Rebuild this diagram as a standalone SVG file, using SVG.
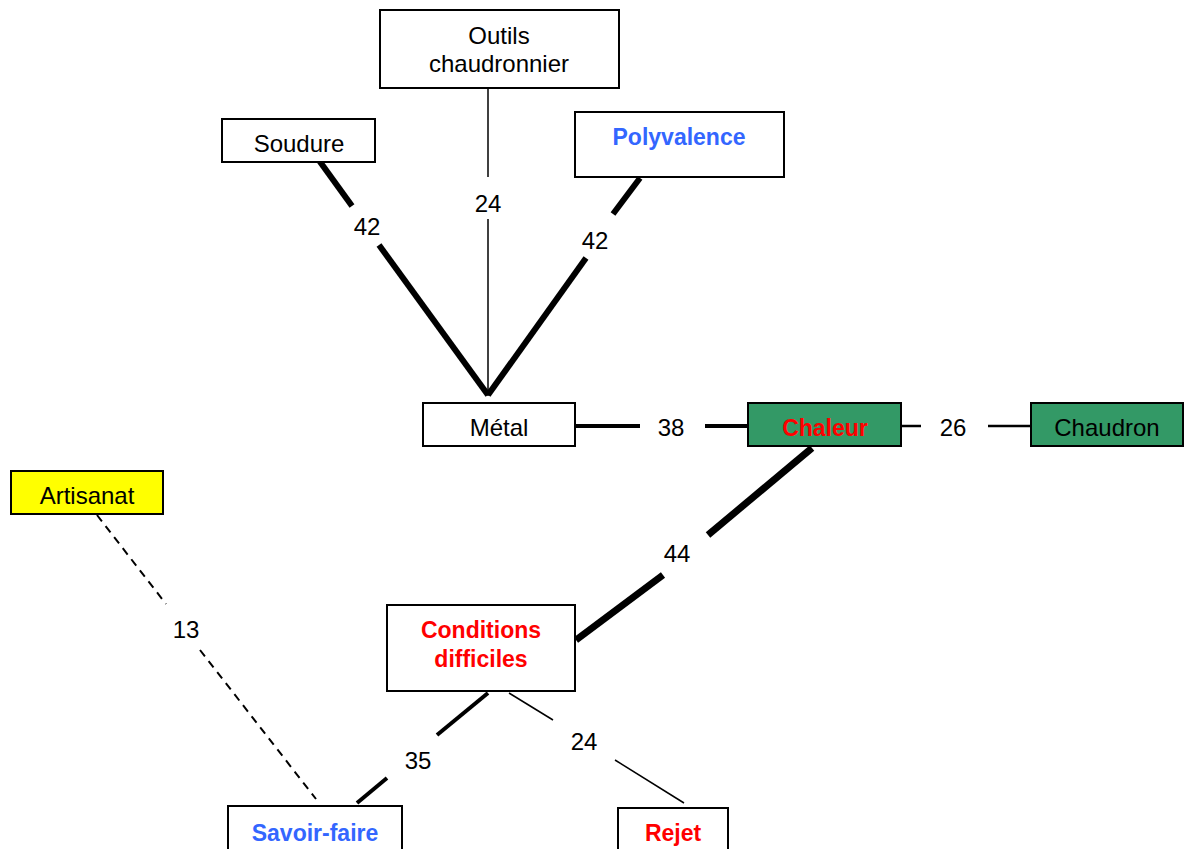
<svg xmlns="http://www.w3.org/2000/svg" width="1184" height="849" viewBox="0 0 1184 849">
  <style>
    .box { fill: #ffffff; stroke: #000000; stroke-width: 2; }
    .green { fill: #339966; }
    .yellow { fill: #ffff00; }
    text { font-family: "Liberation Sans", Arial, sans-serif; font-size: 24px; text-anchor: middle; fill: #000000; }
    .b { font-weight: bold; font-size: 23px; }
    .blue { fill: #3366ff; }
    .red { fill: #ff0000; }
    .edge { stroke: #000000; fill: none; }
    .w1 { stroke-width: 1.5; }
    .w2 { stroke-width: 2.5; }
    .w4 { stroke-width: 4; }
    .w6 { stroke-width: 6; }
    .w7 { stroke-width: 7; }
    .dash { stroke-width: 2; stroke-dasharray: 8 6; }
  </style>
  <rect width="1184" height="849" fill="#ffffff"/>

  <g id="connectors">
    <!-- Soudure - Metal -->
    <g class="edge w6">
      <line x1="318" y1="159" x2="352" y2="206"/>
      <line x1="379" y1="245" x2="488" y2="395"/>
    </g>
    <text x="367" y="235">42</text>
    <!-- Outils chaudronnier - Metal -->
    <g class="edge w1">
      <line x1="488" y1="88" x2="488" y2="177"/>
      <line x1="488" y1="219" x2="488" y2="396"/>
    </g>
    <text x="488" y="212">24</text>
    <!-- Polyvalence - Metal -->
    <g class="edge w6">
      <line x1="640" y1="178" x2="613" y2="214"/>
      <line x1="586" y1="258" x2="488" y2="395"/>
    </g>
    <text x="595" y="249">42</text>
    <!-- Metal - Chaleur -->
    <g class="edge w4">
      <line x1="575" y1="426" x2="640" y2="426"/>
      <line x1="705" y1="426" x2="748" y2="426"/>
    </g>
    <text x="671" y="436">38</text>
    <!-- Chaleur - Chaudron -->
    <g class="edge w2">
      <line x1="901" y1="426" x2="921" y2="426"/>
      <line x1="988" y1="426" x2="1031" y2="426"/>
    </g>
    <text x="953" y="436">26</text>
    <!-- Chaleur - Conditions difficiles -->
    <g class="edge w7">
      <line x1="812" y1="448" x2="708" y2="535"/>
      <line x1="663" y1="575" x2="576" y2="640"/>
    </g>
    <text x="677" y="562">44</text>
    <!-- Artisanat - Savoir-faire -->
    <g class="edge dash">
      <line x1="97" y1="515" x2="166" y2="604"/>
      <line x1="200" y1="650" x2="316" y2="799"/>
    </g>
    <text x="186" y="638">13</text>
    <!-- Conditions difficiles - Savoir-faire -->
    <g class="edge w4">
      <line x1="488" y1="693" x2="437" y2="735"/>
      <line x1="387" y1="778" x2="357" y2="803"/>
    </g>
    <text x="418" y="769">35</text>
    <!-- Conditions difficiles - Rejet -->
    <g class="edge w1">
      <line x1="509" y1="693" x2="553" y2="720"/>
      <line x1="615" y1="760" x2="684" y2="803"/>
    </g>
    <text x="584" y="750">24</text>
  </g>

  <g id="node-outils">
    <rect class="box" x="380" y="10" width="239" height="78"/>
    <text x="499" y="44">Outils</text>
    <text x="499" y="72">chaudronnier</text>
  </g>
  <g id="node-soudure">
    <rect class="box" x="222" y="119" width="153" height="43"/>
    <text x="299" y="152">Soudure</text>
  </g>
  <g id="node-polyvalence">
    <rect class="box" x="575" y="112" width="209" height="65"/>
    <text class="b blue" x="679" y="145">Polyvalence</text>
  </g>
  <g id="node-metal">
    <rect class="box" x="423" y="403" width="152" height="43"/>
    <text x="499" y="436">Métal</text>
  </g>
  <g id="node-chaleur">
    <rect class="box green" x="748" y="403" width="153" height="43"/>
    <text class="b red" x="825" y="436">Chaleur</text>
  </g>
  <g id="node-chaudron">
    <rect class="box green" x="1031" y="403" width="152" height="43"/>
    <text x="1107" y="436">Chaudron</text>
  </g>
  <g id="node-artisanat">
    <rect class="box yellow" x="11" y="471" width="152" height="43"/>
    <text x="87" y="504">Artisanat</text>
  </g>
  <g id="node-conditions">
    <rect class="box" x="387" y="605" width="188" height="86"/>
    <text class="b red" x="481" y="638">Conditions</text>
    <text class="b red" x="481" y="667">difficiles</text>
  </g>
  <g id="node-savoir-faire">
    <rect class="box" x="228" y="806" width="174" height="60"/>
    <text class="b blue" x="315" y="841">Savoir-faire</text>
  </g>
  <g id="node-rejet">
    <rect class="box" x="618" y="808" width="110" height="60"/>
    <text class="b red" x="673" y="841">Rejet</text>
  </g>
</svg>
